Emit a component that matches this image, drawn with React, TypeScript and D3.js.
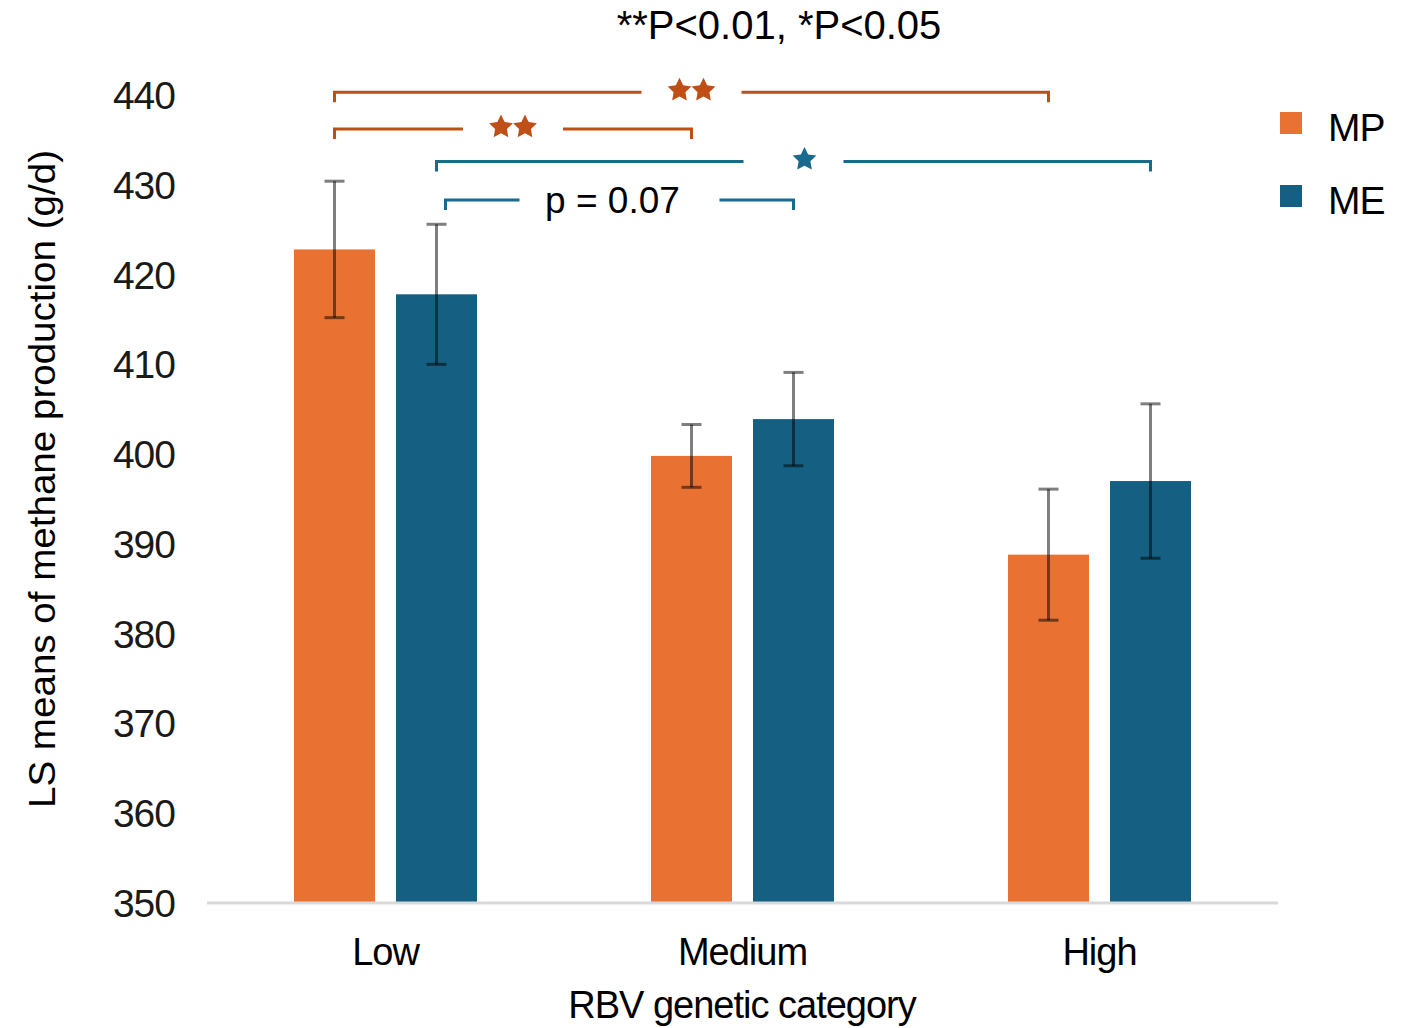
import React from "react";
import * as d3 from "d3";

const categories = ["Low", "Medium", "High"];
const seriesNames = ["MP", "ME"];
const mpValues = [422.8, 399.8, 388.8];
const meValues = [417.8, 403.9, 397.0];
const mpErrors = [7.6, 3.5, 7.3];
const meErrors = [7.8, 5.2, 8.6];
const yTicks = [350, 360, 370, 380, 390, 400, 410, 420, 430, 440];

// significance comparisons
const compFrom = ["Low", "Low", "Low", "Low"];
const compTo = ["High", "Medium", "High", "Medium"];
const compSeries = ["MP", "MP", "ME", "ME"];
const compLevel = [440.3, 436.2, 432.6, 428.3];
const compLabel = ["**", "**", "*", "p = 0.07"];

const W = 1409;
const H = 1028;
const colors: Record<string, string> = { MP: "#E97132", ME: "#156082" };
const bracketColors: Record<string, string> = { MP: "#C04F15", ME: "#1A6A90" };
const FONT = "'Liberation Sans', Arial, sans-serif";

function starD(rOuter: number, rInner: number) {
  const pts: [number, number][] = d3.range(10).map((k) => {
    const a = (k * Math.PI) / 5;
    return [a, k % 2 === 0 ? rOuter : rInner];
  });
  return d3.lineRadial().curve(d3.curveLinearClosed)(pts) as string;
}

export default function App() {
  const x0 = d3.scaleBand<string>().domain(categories).range([207, 1278]).paddingInner(0).paddingOuter(0);
  const x1 = d3.scaleBand<string>().domain(seriesNames).range([0, 183]).paddingInner(0.206).paddingOuter(0);
  const y = d3.scaleLinear().domain([350, 440]).range([903, 95]);
  const groupOffset = (x0.bandwidth() - 183) / 2;
  const barX = (c: string, s: string) => (x0(c) as number) + groupOffset + (x1(s) as number);
  const barCenter = (c: string, s: string) => barX(c, s) + x1.bandwidth() / 2;

  const rows = categories.flatMap((c, i) => [
    { c, s: "MP", v: mpValues[i], e: mpErrors[i] },
    { c, s: "ME", v: meValues[i], e: meErrors[i] },
  ]);

  const starPath = starD(12.5, 6.2);

  return (
    <svg width={W} height={H} style={{ position: "absolute", left: 0, top: 0, background: "#fff" }}>
      {/* title */}
      <text x={779} y={39} textAnchor="middle" fontFamily={FONT} fontSize={40} fill="#000">
        **P&lt;0.01, *P&lt;0.05
      </text>

      {/* y tick labels */}
      {yTicks.map((t) => (
        <text key={t} x={175} y={y(t) + 14} textAnchor="end" fontFamily={FONT} fontSize={39} fill="#1a1a1a" letterSpacing={-1}>
          {t}
        </text>
      ))}

      {/* y axis title */}
      <text
        transform={`translate(55,479) rotate(-90)`}
        textAnchor="middle"
        fontFamily={FONT}
        fontSize={36}
        fill="#000"
        textLength={658}
        lengthAdjust="spacingAndGlyphs"
      >
        LS means of methane production (g/d)
      </text>

      {/* bars */}
      {rows.map((r) => (
        <rect
          key={r.c + r.s}
          x={barX(r.c, r.s)}
          y={y(r.v)}
          width={x1.bandwidth()}
          height={y(350) - y(r.v)}
          fill={colors[r.s]}
        />
      ))}

      {/* axis line */}
      <line x1={207} x2={1278} y1={y(350)} y2={y(350)} stroke="#d9d9d9" strokeWidth={3} />

      {/* error bars */}
      {rows.map((r) => {
        const cx = barCenter(r.c, r.s);
        return (
          <g key={"e" + r.c + r.s} stroke="#000" strokeOpacity={0.5} strokeWidth={3}>
            <line x1={cx} x2={cx} y1={y(r.v + r.e)} y2={y(r.v - r.e)} />
            <line x1={cx - 10} x2={cx + 10} y1={y(r.v + r.e)} y2={y(r.v + r.e)} />
            <line x1={cx - 10} x2={cx + 10} y1={y(r.v - r.e)} y2={y(r.v - r.e)} />
          </g>
        );
      })}

      {/* significance brackets */}
      {compFrom.map((f, i) => {
        const s = compSeries[i];
        const isText = compLabel[i].startsWith("p");
        const xa = barCenter(f, s) + (isText ? 9 : 0);
        const xb = barCenter(compTo[i], s);
        const yy = y(compLevel[i]);
        const mid = (xa + xb) / 2;
        const half = isText ? 100 : 50;
        const col = bracketColors[s];
        const nStars = compLabel[i].length;
        return (
          <g key={"b" + i}>
            <path
              d={`M${xa},${yy + 10}V${yy}H${mid - half}M${mid + half},${yy}H${xb}V${yy + 10}`}
              fill="none"
              stroke={col}
              strokeWidth={3}
            />
            {isText ? (
              <text x={mid - 7} y={yy + 13} textAnchor="middle" fontFamily={FONT} fontSize={37} fill="#000">
                {compLabel[i]}
              </text>
            ) : (
              d3.range(nStars).map((k) => (
                <path
                  key={k}
                  d={starPath}
                  fill={col}
                  transform={`translate(${mid + (k - (nStars - 1) / 2) * 24 + (nStars === 1 ? 11 : 0)},${yy - 2})`}
                />
              ))
            )}
          </g>
        );
      })}

      {/* x tick labels */}
      {categories.map((c) => (
        <text key={c} x={(x0(c) as number) + x0.bandwidth() / 2} y={965} textAnchor="middle" fontFamily={FONT} fontSize={38} fill="#000" letterSpacing={-1}>
          {c}
        </text>
      ))}

      {/* x axis title */}
      <text x={742} y={1018} textAnchor="middle" fontFamily={FONT} fontSize={38} fill="#000" letterSpacing={-1}>
        RBV genetic category
      </text>

      {/* legend */}
      {seriesNames.map((s, i) => (
        <g key={"l" + s} transform={`translate(1280,${112 + i * 73})`}>
          <rect x={0} y={0} width={22} height={22} fill={colors[s]} />
          <text x={48} y={29} fontFamily={FONT} fontSize={39} fill="#000" letterSpacing={-1}>
            {s}
          </text>
        </g>
      ))}
    </svg>
  );
}
